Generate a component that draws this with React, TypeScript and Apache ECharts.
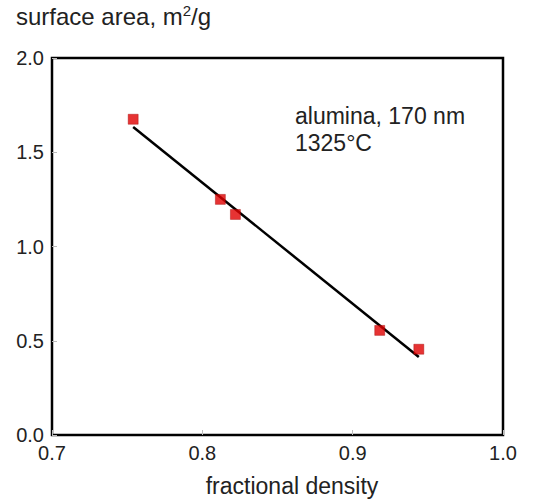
import React, { useEffect, useRef } from "react";
import * as echarts from "echarts";

const densities = [0.754, 0.812, 0.822, 0.918, 0.944];
const areas = [1.675, 1.25, 1.17, 0.555, 0.455];
const fitX = [0.754, 0.944];
const fitY = [1.634, 0.414];
const xTicks = [0.7, 0.8, 0.9, 1.0];
const yTicks = [0.0, 0.5, 1.0, 1.5, 2.0];

export default function App() {
  const ref = useRef<HTMLDivElement>(null);
  useEffect(() => {
    const chart = echarts.init(ref.current!, null, { renderer: "svg" });
    const font = "Liberation Sans, Arial, sans-serif";
    chart.setOption({
      animation: false,
      backgroundColor: "#ffffff",
      grid: {
        left: 52,
        right: 48,
        top: 58,
        bottom: 66,
        show: true,
        borderColor: "#000",
        borderWidth: 2.5,
        backgroundColor: "transparent",
      },
      xAxis: {
        type: "value",
        min: xTicks[0],
        max: xTicks[xTicks.length - 1],
        interval: 0.1,
        axisLine: { show: false },
        axisTick: { show: true, inside: true, length: 5, lineStyle: { color: "#bbb", width: 1 } },
        splitLine: { show: false },
        axisLabel: {
          fontFamily: font,
          fontSize: 20,
          color: "#222",
          margin: 8,
          formatter: (v: number) => v.toFixed(1),
        },
      },
      yAxis: {
        type: "value",
        min: yTicks[0],
        max: yTicks[yTicks.length - 1],
        interval: 0.5,
        axisLine: { show: false },
        axisTick: { show: true, inside: true, length: 5, lineStyle: { color: "#bbb", width: 1 } },
        splitLine: { show: false },
        axisLabel: {
          fontFamily: font,
          fontSize: 20,
          color: "#222",
          margin: 8,
          formatter: (v: number) => v.toFixed(1),
        },
      },
      graphic: [
        {
          type: "text",
          left: 16,
          top: 3,
          style: {
            text: "{a|surface area, m}{s|2}{a|/g}",
            rich: {
              a: { fontFamily: font, fontSize: 24, fill: "#222", verticalAlign: "bottom" },
              s: { fontFamily: font, fontSize: 15, fill: "#222", verticalAlign: "top", padding: [0, 0, 10, 0] },
            },
          },
        },
        {
          type: "text",
          x: 292,
          y: 486,
          style: {
            text: "fractional density",
            fontFamily: font,
            fontSize: 23,
            fill: "#222",
            align: "center",
            verticalAlign: "middle",
          },
        },
        {
          type: "text",
          x: 295,
          y: 102,
          style: {
            text: "alumina, 170 nm\n1325°C",
            fontFamily: font,
            fontSize: 23,
            lineHeight: 27,
            fill: "#222",
            align: "left",
            verticalAlign: "top",
          },
        },
      ],
      series: [
        {
          type: "line",
          data: fitX.map((x, i) => [x, fitY[i]]),
          symbol: "none",
          lineStyle: { color: "#000", width: 2.5 },
          z: 2,
        },
        {
          type: "scatter",
          data: densities.map((x, i) => [x, areas[i]]),
          symbol: "rect",
          symbolSize: 10,
          itemStyle: { color: "#e00000", borderColor: "#a00000", borderWidth: 0.5 },
          z: 3,
        },
      ],
    });
    return () => chart.dispose();
  }, []);
  return <div ref={ref} style={{ width: 551, height: 501, position: "absolute", left: 0, top: 0 }} />;
}
